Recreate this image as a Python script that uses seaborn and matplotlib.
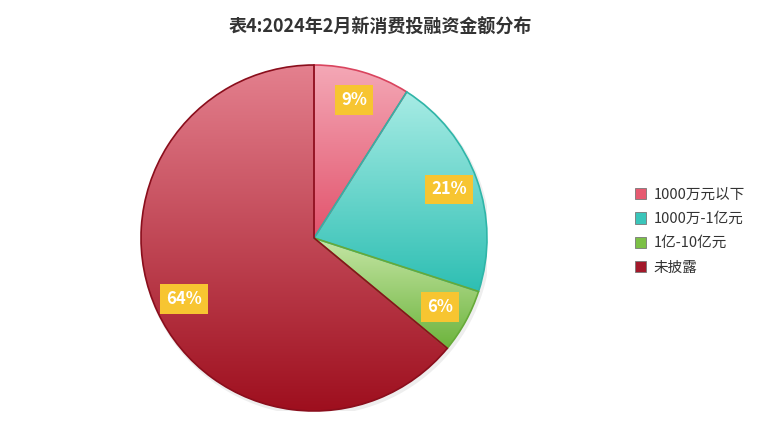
import numpy as np
import matplotlib.pyplot as plt
import seaborn as sns
from matplotlib.colors import LinearSegmentedColormap
from matplotlib.patches import Circle, Rectangle

# data
categories = ["1000万元以下", "1000万-1亿元", "1亿-10亿元", "未披露"]
shares = [9, 21, 6, 64]
tops = ["#f4a8b6", "#a8ece5", "#c6e6a6", "#e4808e"]
bottoms = ["#e2536c", "#2ebfb3", "#6db43d", "#9e0f1e"]
edges = ["#d9445e", "#2fb5a8", "#66aa38", "#8a0e1c"]
legend_cols = ["#e65a70", "#3ac5ba", "#7cc046", "#a3182a"]

sns.set_theme(style="white")
plt.rcParams['font.family'] = ['Noto Sans CJK SC', 'DejaVu Sans']

fig = plt.figure(figsize=(7.6, 4.32), dpi=100)
ax = fig.add_axes([141 / 760, 21 / 432, 346 / 760, 346 / 432])

# faint shadow
ax.add_patch(Circle((0.01, -0.015), 1.01, color="#aaaaaa", alpha=0.2, lw=0, zorder=0))

wedges, _, autotexts = ax.pie(
    shares, startangle=90, counterclock=False, radius=1,
    autopct="%.0f%%", pctdistance=0.83,
    wedgeprops=dict(linewidth=1.2),
    textprops=dict(color="white", fontsize=12, fontweight="bold"),
)

grad = np.linspace(1, 0, 256).reshape(-1, 1)
for w, t, b, e in zip(wedges, tops, bottoms, edges):
    ext = w.get_path().get_extents()
    cmap = LinearSegmentedColormap.from_list("g", [b, t])
    im = ax.imshow(grad, cmap=cmap, aspect="auto",
                   extent=(ext.x0, ext.x1, ext.y0, ext.y1), zorder=1)
    im.set_clip_path(w)
    w.set_facecolor("none")
    w.set_edgecolor(e)
    w.set_zorder(2)

for t in autotexts:
    t.set_zorder(3)
    t.set_bbox(dict(boxstyle="square,pad=0.35", facecolor="#f7c531", edgecolor="none"))

ax.set_xlim(-1, 1)
ax.set_ylim(-1, 1)
ax.set_aspect("equal")
ax.axis("off")

handles = [Rectangle((0, 0), 1, 1, facecolor=c, edgecolor="#777777", lw=0.6) for c in legend_cols]
fig.legend(handles, categories, loc="center left", bbox_to_anchor=(0.818, 0.465),
           frameon=False, fontsize=10.5, handlelength=0.8, handleheight=0.8,
           handletextpad=0.5, labelspacing=0.7, labelcolor="#333333")

fig.text(0.5, 0.937, "表4:2024年2月新消费投融资金额分布", ha="center", va="center",
         fontsize=13, fontweight="bold", color="#333333")

fig.savefig("out.png", dpi=100)
